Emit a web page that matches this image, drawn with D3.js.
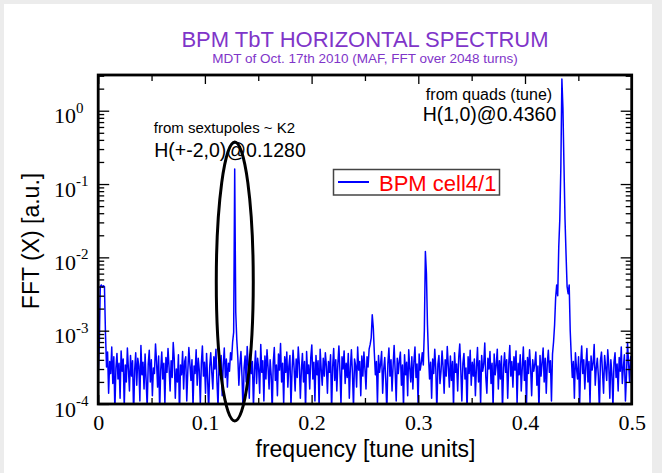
<!DOCTYPE html>
<html>
<head>
<meta charset="utf-8">
<script src="https://cdn.jsdelivr.net/npm/d3@7"></script>
<style>
  html, body { margin: 0; padding: 0; background: #ececec; }
  svg { display: block; }
</style>
</head>
<body>
<svg id="chart" width="662" height="473"></svg>
<script>
// texts
const titleText = "BPM TbT HORIZONTAL SPECTRUM";
const subtitleText = "MDT of Oct. 17th 2010 (MAF, FFT over 2048 turns)";
const xLabelText = "frequency [tune units]";
const yLabelText = "FFT (X) [a.u.]";
const seriesName = "BPM cell4/1";

// ticks
const xTicks = [0, 0.1, 0.2, 0.3, 0.4, 0.5];
const xTickLabels = ["0", "0.1", "0.2", "0.3", "0.4", "0.5"];
const xMinorTicks = [0.05, 0.15, 0.25, 0.35, 0.45];
const yDecades = [0, -1, -2, -3, -4];

// spectrum: one value per FFT bin (2048 turns -> bin spacing 1/2048, every 2nd bin kept)
const freqStep = 1 / 1024;
const fftUnit = 1e-4; // values below are in units of 1e-4 a.u.
const fftX = [
  2.5, 6, 40, 42, 39, 41, 40, 9, 3.2, 5.1, 1.4, 3.8, 2.6, 6.0, 1.9, 4.4,
  0.8, 3.1, 4.9, 2.2, 3.6, 1.2, 5.3, 2.8, 4.1, 0.9, 3.4, 2.0, 5.8, 3.0, 1.5, 4.6,
  2.4, 3.9, 0.7, 2.9, 5.0, 1.8, 4.2, 3.3, 1.1, 6.3, 2.5, 3.7, 1.6, 4.8, 2.1, 0.9,
  3.5, 5.4, 2.0, 4.0, 1.3, 3.1, 2.6, 6.6, 3.8, 1.7, 4.5, 0.8, 2.9, 5.1, 2.2, 3.6,
  1.0, 4.3, 2.7, 5.7, 3.2, 1.5, 3.9, 2.3, 6.9, 4.1, 1.2, 3.0, 2.0, 4.7, 0.7, 3.4,
  2.5, 5.2, 1.6, 3.8, 4.4, 1.1, 2.8, 5.9, 3.5, 2.1, 4.0, 0.9, 3.3, 2.6, 5.5, 1.8,
  4.2, 2.9, 1.0, 3.6, 6.2, 2.4, 3.7, 1.4, 4.9, 2.2, 0.8, 3.2, 5.0, 2.7, 1.6, 4.4,
  3.0, 5.6, 2.0, 0.9, 3.9, 2.5, 4.6, 1.3, 3.4, 5.8, 2.3, 4.1, 1.7, 3.6, 2.8, 5.0,
  4.0, 7.0, 9.5, 1600, 18, 7.5, 4.3, 1.8, 3.5, 5.2, 2.4, 0.8, 3.1, 4.5, 2.0, 6.1,
  3.3, 1.2, 4.7, 2.6, 3.8, 0.9, 2.9, 5.3, 1.9, 4.2, 3.0, 1.4, 6.5, 2.7, 3.9, 1.1,
  4.5, 2.2, 5.5, 3.2, 1.6, 4.0, 2.5, 0.8, 3.7, 5.9, 2.1, 3.4, 1.3, 4.8, 2.9, 6.7,
  2.0, 3.6, 1.0, 4.4, 2.7, 5.1, 1.7, 3.3, 4.6, 0.9, 2.8, 5.4, 3.1, 1.5, 4.1, 2.3,
  6.0, 3.5, 1.2, 2.9, 4.9, 2.0, 3.8, 0.8, 5.2, 2.6, 3.4, 1.6, 4.3, 6.4, 2.2, 3.7,
  1.1, 4.6, 2.5, 3.9, 0.9, 5.6, 3.0, 1.8, 4.2, 2.4, 5.0, 3.3, 1.4, 3.8, 2.7, 4.7,
  0.8, 3.2, 5.7, 2.1, 4.0, 1.5, 3.5, 6.2, 2.8, 1.0, 4.4, 3.0, 5.3, 1.9, 3.6, 2.3,
  4.9, 1.2, 3.1, 5.5, 2.6, 0.9, 4.1, 3.4, 1.7, 6.0, 2.9, 3.8, 1.3, 4.5, 2.4, 5.1,
  3.0, 1.6, 4.4, 3.2, 5.6, 6.5, 8.0, 16.5, 11, 5.0, 2.5, 3.8, 1.0, 4.6, 2.7, 3.5,
  5.2, 1.4, 3.0, 4.3, 2.1, 0.8, 3.6, 5.8, 2.4, 4.0, 1.5, 3.3, 6.3, 2.8, 1.1, 4.2,
  2.6, 3.9, 5.1, 1.8, 3.4, 0.9, 4.7, 2.5, 3.7, 1.3, 5.5, 3.1, 2.0, 4.4, 1.6, 3.8,
  6.0, 2.3, 3.5, 1.0, 4.8, 2.9, 3.6, 5.0, 3.4, 10, 120, 60, 12, 4.5, 2.2, 3.7,
  1.2, 4.1, 2.6, 5.6, 3.0, 0.8, 3.5, 4.6, 1.9, 2.8, 5.3, 3.2, 1.4, 4.0, 2.4, 6.1,
  3.3, 1.7, 4.5, 2.1, 3.8, 0.9, 5.0, 2.7, 3.5, 1.5, 4.3, 6.6, 2.9, 1.1, 3.6, 4.9,
  2.2, 3.1, 0.8, 4.4, 2.6, 5.4, 1.8, 3.7, 2.4, 4.1, 1.3, 3.2, 5.9, 2.0, 3.9, 1.0,
  4.6, 2.8, 3.5, 6.8, 2.3, 1.4, 4.2, 3.0, 5.2, 1.9, 3.6, 0.9, 4.8, 2.5, 3.4, 5.6,
  1.6, 3.9, 2.2, 4.5, 0.8, 3.1, 5.0, 2.7, 4.0, 1.2, 3.5, 6.3, 2.4, 3.8, 1.7, 4.4,
  2.9, 5.3, 1.0, 3.6, 2.5, 4.7, 1.5, 3.2, 6.0, 2.1, 3.9, 0.9, 4.3, 2.6, 5.5, 3.1,
  1.3, 4.0, 2.8, 3.5, 5.1, 1.8, 3.3, 0.8, 4.6, 2.4, 3.7, 5.8, 2.0, 4.2, 1.4, 3.6,
  5.4, 2.7, 3.9, 1.1, 4.8, 7.0, 12, 28, 42, 30, 140, 330, 1700, 27000, 11000, 1800,
  330, 110, 40, 32, 42, 10, 4.5, 2.3, 3.8, 1.2, 5.0, 3.1, 2.2, 4.4, 0.9, 3.5,
  6.2, 2.6, 4.0, 1.6, 3.3, 5.7, 2.0, 3.8, 1.0, 4.5, 2.9, 3.6, 6.5, 1.8, 3.1, 4.2,
  2.4, 0.8, 3.9, 5.1, 2.7, 1.4, 4.6, 3.2, 2.1, 5.5, 3.4, 1.2, 4.0, 2.6, 0.9, 3.7,
  5.0, 2.3, 3.5, 1.5, 4.3, 2.8, 6.0, 1.9, 3.2, 4.7, 1.1, 2.5, 6.9, 3.6, 2.0, 4.4,
  3.0
];

const sans = "'Liberation Sans', Arial, sans-serif";
const serif = "'Liberation Serif', 'Times New Roman', serif";
const purple = "#7f35c9";

const svg = d3.select("#chart");

// white slide panel
svg.append("rect")
    .attr("x", 4).attr("y", 4)
    .attr("width", 648).attr("height", 469)
    .attr("fill", "#ffffff");

// plot area
const plotLeft = 98.2, plotRight = 631.7, plotTop = 75, plotBottom = 404;

const x = d3.scaleLinear().domain([0, 0.5]).range([plotLeft, plotRight]);
const y = d3.scaleLog().domain([1e-4, 3.07]).range([plotBottom, plotTop]);

// titles
svg.append("text")
    .attr("x", 365).attr("y", 47)
    .attr("text-anchor", "middle")
    .style("font-family", sans).style("font-size", "22px")
    .attr("fill", purple)
    .text(titleText);

svg.append("text")
    .attr("x", 365).attr("y", 63)
    .attr("text-anchor", "middle")
    .style("font-family", sans).style("font-size", "13.5px")
    .attr("fill", purple)
    .text(subtitleText);

// data line (clipped to the frame)
svg.append("clipPath").attr("id", "plotClip")
    .append("rect")
    .attr("x", plotLeft).attr("y", plotTop)
    .attr("width", plotRight - plotLeft).attr("height", plotBottom - plotTop);

const line = d3.line()
    .x((d, i) => x(i * freqStep))
    .y(d => y(d * fftUnit));

svg.append("path")
    .datum(fftX)
    .attr("clip-path", "url(#plotClip)")
    .attr("fill", "none")
    .attr("stroke", "#0000ff")
    .attr("stroke-width", 1.5)
    .attr("stroke-linejoin", "round")
    .attr("d", line);

// minor log ticks 2..9 in each decade
const yMinor = [];
yDecades.forEach(e => {
    for (let k = 2; k <= 9; k++) {
        const v = k * Math.pow(10, e);
        if (v <= y.domain()[1]) yMinor.push(v);
    }
});
const yMajor = yDecades.map(e => Math.pow(10, e));

function styleAxis(g) {
    g.select(".domain").remove();
    g.selectAll(".tick line").attr("stroke", "#000").attr("stroke-width", 1.3);
}

// bottom
svg.append("g")
    .attr("transform", `translate(0,${plotBottom})`)
    .call(d3.axisBottom(x).tickValues(xTicks).tickSizeInner(-9).tickSizeOuter(0).tickPadding(10.5)
        .tickFormat((d, i) => xTickLabels[i]))
    .call(styleAxis)
    .call(g => g.selectAll("text")
        .style("font-family", serif).style("font-size", "22px").attr("fill", "#000"));
svg.append("g")
    .attr("transform", `translate(0,${plotBottom})`)
    .call(d3.axisBottom(x).tickValues(xMinorTicks).tickSizeInner(-6).tickSizeOuter(0).tickFormat(""))
    .call(styleAxis);

// top
svg.append("g")
    .attr("transform", `translate(0,${plotTop})`)
    .call(d3.axisTop(x).tickValues(xTicks).tickSizeInner(-9).tickSizeOuter(0).tickFormat(""))
    .call(styleAxis);
svg.append("g")
    .attr("transform", `translate(0,${plotTop})`)
    .call(d3.axisTop(x).tickValues(xMinorTicks).tickSizeInner(-6).tickSizeOuter(0).tickFormat(""))
    .call(styleAxis);

// left / right
[[d3.axisLeft, plotLeft], [d3.axisRight, plotRight]].forEach(([axis, pos]) => {
    svg.append("g")
        .attr("transform", `translate(${pos},0)`)
        .call(axis(y).tickValues(yMajor).tickSizeInner(-11).tickSizeOuter(0).tickFormat(""))
        .call(styleAxis);
    svg.append("g")
        .attr("transform", `translate(${pos},0)`)
        .call(axis(y).tickValues(yMinor).tickSizeInner(-6).tickSizeOuter(0).tickFormat(""))
        .call(styleAxis);
});

// y tick labels 10^e
const yLab = svg.append("g").selectAll("text")
    .data(yDecades)
    .enter().append("text")
    .attr("x", 54)
    .attr("y", d => y(Math.pow(10, d)) + 12.5)
    .style("font-family", serif).style("font-size", "22px")
    .attr("fill", "#000");
yLab.append("tspan").text("10");
yLab.append("tspan")
    .attr("dy", -10.5)
    .style("font-size", "15px")
    .text(d => d === 0 ? "0" : "-" + Math.abs(d));

// frame
svg.append("rect")
    .attr("x", plotLeft).attr("y", plotTop)
    .attr("width", plotRight - plotLeft).attr("height", plotBottom - plotTop)
    .attr("fill", "none")
    .attr("stroke", "#000")
    .attr("stroke-width", 2.8);

// axis titles
svg.append("text")
    .attr("x", 365.5).attr("y", 456.5)
    .attr("text-anchor", "middle")
    .style("font-family", sans).style("font-size", "23px")
    .text(xLabelText);

svg.append("text")
    .attr("transform", "translate(39,241) rotate(-90)")
    .attr("text-anchor", "middle")
    .style("font-family", sans).style("font-size", "23px")
    .text(yLabelText);

// annotations
svg.append("text")
    .attr("x", 224.5).attr("y", 133)
    .attr("text-anchor", "middle")
    .style("font-family", sans).style("font-size", "15px")
    .text("from sextupoles ~ K2");
svg.append("text")
    .attr("x", 230).attr("y", 156.5)
    .attr("text-anchor", "middle")
    .style("font-family", sans).style("font-size", "19.5px")
    .text("H(+-2,0)@0.1280");

svg.append("text")
    .attr("x", 489).attr("y", 99.5)
    .attr("text-anchor", "middle")
    .style("font-family", sans).style("font-size", "16px")
    .text("from quads (tune)");
svg.append("text")
    .attr("x", 489.5).attr("y", 120.5)
    .attr("text-anchor", "middle")
    .style("font-family", sans).style("font-size", "19.5px")
    .text("H(1,0)@0.4360");

// ellipse around the 0.128 line
svg.append("ellipse")
    .attr("cx", x(0.128)).attr("cy", 281.5)
    .attr("rx", 18.5).attr("ry", 139.5)
    .attr("fill", "none")
    .attr("stroke", "#000")
    .attr("stroke-width", 3);

// legend
const legend = svg.append("g");
legend.append("rect")
    .attr("x", 333.5).attr("y", 169.5)
    .attr("width", 166).attr("height", 25.5)
    .attr("fill", "#fff")
    .attr("stroke", "#444")
    .attr("stroke-width", 1.5);
legend.append("line")
    .attr("x1", 338).attr("x2", 369)
    .attr("y1", 182).attr("y2", 182)
    .attr("stroke", "#0000ff").attr("stroke-width", 2);
legend.append("text")
    .attr("x", 379).attr("y", 191)
    .style("font-family", sans).style("font-size", "22px")
    .attr("fill", "#ff0000")
    .text(seriesName);
</script>
</body>
</html>
